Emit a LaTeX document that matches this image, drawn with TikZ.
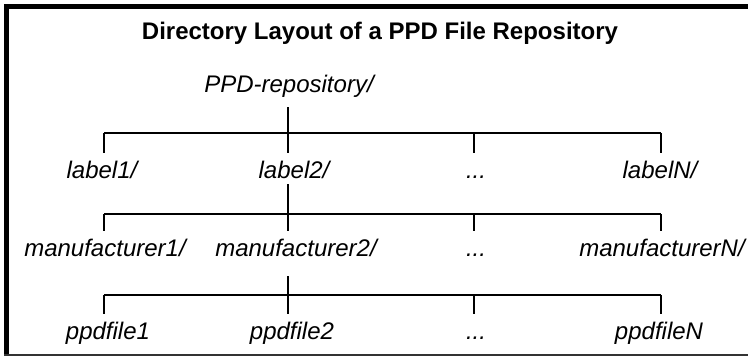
\documentclass[tikz,border=0pt]{standalone}
\usepackage{fontspec}
\setmainfont{Liberation Sans}

\begin{document}
\begin{tikzpicture}[x=1pt, y=-1pt,
    dir/.style={font=\fontsize{24}{28}\selectfont\itshape, anchor=base,
      text height=17pt, text depth=5pt, inner ysep=8pt, inner xsep=0pt},
    branch/.style={line width=2.7pt}]
  \useasboundingbox (0,0) rectangle (748,356);
  % frame: heavy rule left and top, thin grey rule at the bottom
  \draw [line width=5pt] (6.5,356) -- (6.5,6.5) -- (748,6.5);
  \draw [line width=2pt, black!80] (4,355) -- (748,355);
  \node [font=\fontsize{24}{28}\selectfont\bfseries, anchor=base] (title) at (380,39) {Directory Layout of a PPD File Repository};

  % the tree, one row of directories at a time
  \node [dir] (root) at (289,92) {PPD-repository/};
  \node [dir] (lab1) at (102,178) {label1/};
  \node [dir] (lab2) at (294,178) {label2/};
  \node [dir] (labd) at (476,178) {...};
  \node [dir] (labN) at (660,178) {labelN/};
  \node [dir] (man1) at (105,256) {manufacturer1/};
  \node [dir] (man2) at (296,256) {manufacturer2/};
  \node [dir] (mand) at (476,256) {...};
  \node [dir] (manN) at (662,256) {manufacturerN/};
  \node [dir] (ppd1) at (108,339) {ppdfile1};
  \node [dir] (ppd2) at (292,339) {ppdfile2};
  \node [dir] (ppdd) at (476,339) {...};
  \node [dir] (ppdN) at (659,339) {ppdfileN};

  % where the branches leave the bars
  \coordinate (a1) at (104,133);  \coordinate (a2) at (288,133);
  \coordinate (a3) at (474,133);  \coordinate (a4) at (661,133);
  \coordinate (b1) at (104,214);  \coordinate (b2) at (288,214);
  \coordinate (b3) at (474,214);  \coordinate (b4) at (661,214);
  \coordinate (c1) at (104,295);  \coordinate (c2) at (288,295);
  \coordinate (c3) at (474,295);  \coordinate (c4) at (661,295);

  \draw [branch, shorten <=2pt] (a2 |- root.south) -- (a2);
  \draw [branch] (a1) -- (a4);
  \draw [branch] (a1) -- (a1 |- lab1.north);
  \draw [branch] (a2) -- (a2 |- lab2.north);
  \draw [branch] (a3) -- (a3 |- labd.north);
  \draw [branch] (a4) -- (a4 |- labN.north);

  \draw [branch, shorten <=-7pt] (b2 |- lab2.south) -- (b2);
  \draw [branch] (b1) -- (b4);
  \draw [branch] (b1) -- (b1 |- man1.north);
  \draw [branch] (b2) -- (b2 |- man2.north);
  \draw [branch] (b3) -- (b3 |- mand.north);
  \draw [branch] (b4) -- (b4 |- manN.north);

  \draw [branch, shorten <=7pt] (c2 |- man2.south) -- (c2);
  \draw [branch] (c1) -- (c4);
  \draw [branch] (c1) -- (c1 |- ppd1.north);
  \draw [branch] (c2) -- (c2 |- ppd2.north);
  \draw [branch] (c3) -- (c3 |- ppdd.north);
  \draw [branch] (c4) -- (c4 |- ppdN.north);
\end{tikzpicture}
\end{document}
